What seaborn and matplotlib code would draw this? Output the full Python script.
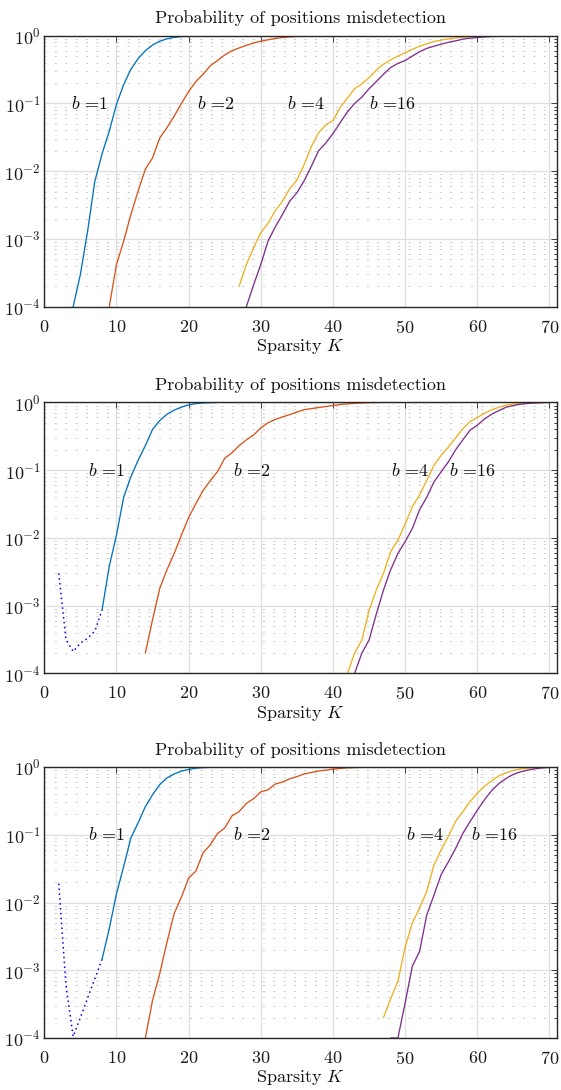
import numpy as np
import matplotlib
matplotlib.use('Agg')
import matplotlib.pyplot as plt
import seaborn as sns
from matplotlib.ticker import LogLocator, NullFormatter, NullLocator

# ---------------- data ----------------
title_text = "Probability of positions misdetection"
xlabel_text = r"Sparsity $K$"
labels_b = [r"$b$ =1", r"$b$ =2", r"$b$ =4", r"$b$ =16"]
x_ticks = [0, 10, 20, 30, 40, 50, 60, 70]

# Panel 1
p1_b1_K = list(range(4, 41))
p1_b1_P = [1.0e-4, 3.0e-4, 1.3e-3, 7.1e-3, 0.018, 0.039, 0.097, 0.19, 0.32, 0.46,
           0.60, 0.73, 0.83, 0.90, 0.945, 0.97, 0.985, 0.995, 1.0, 1.0,
           1.0, 1.0, 1.0, 1.0, 1.0, 1.0, 1.0, 1.0, 1.0, 1.0,
           1.0, 1.0, 1.0, 1.0, 1.0, 1.0, 1.0]
p1_b2_K = list(range(9, 50))
p1_b2_P = [1.0e-4, 4.2e-4, 9.3e-4, 2.3e-3, 5.1e-3, 0.0107, 0.0157, 0.031, 0.044, 0.065,
           0.10, 0.15, 0.21, 0.27, 0.36, 0.43, 0.52, 0.60, 0.66, 0.72,
           0.78, 0.83, 0.87, 0.91, 0.94, 0.96, 0.975, 0.985, 0.99, 0.995,
           1.0, 1.0, 1.0, 1.0, 1.0, 1.0, 1.0, 1.0, 1.0, 1.0, 1.0]
p1_b4_K = list(range(27, 71))
p1_b4_P = [2.0e-4, 4.2e-4, 7.4e-4, 1.24e-3, 1.7e-3, 2.6e-3, 3.6e-3, 5.5e-3, 7.4e-3, 0.0125,
           0.023, 0.037, 0.048, 0.056, 0.087, 0.12, 0.165, 0.195, 0.24, 0.31,
           0.38, 0.44, 0.50, 0.56, 0.63, 0.70, 0.76, 0.82, 0.86, 0.90,
           0.93, 0.95, 0.97, 0.98, 0.99, 0.995, 1.0, 1.0, 1.0, 1.0,
           1.0, 1.0, 1.0, 1.0]
p1_b16_K = list(range(28, 71))
p1_b16_P = [1.0e-4, 2.1e-4, 4.2e-4, 9.3e-4, 1.5e-3, 2.3e-3, 3.6e-3, 4.8e-3, 7.2e-3, 0.0118,
            0.020, 0.026, 0.036, 0.052, 0.075, 0.10, 0.124, 0.165, 0.21, 0.27,
            0.34, 0.39, 0.43, 0.50, 0.58, 0.65, 0.70, 0.75, 0.80, 0.84,
            0.89, 0.92, 0.94, 0.96, 0.97, 0.98, 0.99, 0.995, 1.0, 1.0,
            1.0, 1.0, 1.0]

# Panel 2
p2_b1dot_K = list(range(2, 9))
p2_b1dot_P = [3.0e-3, 3.2e-4, 2.1e-4, 2.8e-4, 3.3e-4, 4.2e-4, 8.6e-4]
p2_b1_K = list(range(8, 46))
p2_b1_P = [8.6e-4, 3.8e-3, 0.011, 0.040, 0.080, 0.14, 0.23, 0.40, 0.54, 0.67,
           0.77, 0.85, 0.92, 0.96, 0.98, 0.99, 1.0, 1.0, 1.0, 1.0,
           1.0, 1.0, 1.0, 1.0, 1.0, 1.0, 1.0, 1.0, 1.0, 1.0,
           1.0, 1.0, 1.0, 1.0, 1.0, 1.0, 1.0, 1.0]
p2_b2_K = list(range(14, 58))
p2_b2_P = [2.0e-4, 6.2e-4, 1.8e-3, 3.4e-3, 5.9e-3, 0.011, 0.020, 0.032, 0.050, 0.070,
           0.095, 0.15, 0.18, 0.23, 0.28, 0.33, 0.42, 0.50, 0.56, 0.61,
           0.66, 0.72, 0.78, 0.81, 0.84, 0.87, 0.90, 0.93, 0.95, 0.97,
           0.98, 0.99, 0.995, 1.0, 1.0, 1.0, 1.0, 1.0, 1.0, 1.0,
           1.0, 1.0, 1.0, 1.0]
p2_b4_K = list(range(42, 71))
p2_b4_P = [1.0e-4, 2.0e-4, 3.1e-4, 8.5e-4, 1.7e-3, 3.0e-3, 6.3e-3, 9.3e-3, 0.016, 0.029,
           0.043, 0.071, 0.118, 0.166, 0.22, 0.30, 0.41, 0.52, 0.60, 0.69,
           0.78, 0.85, 0.91, 0.95, 0.97, 0.985, 0.99, 0.995, 1.0]
p2_b16_K = list(range(43, 71))
p2_b16_P = [1.0e-4, 2.0e-4, 3.1e-4, 7.5e-4, 1.7e-3, 3.4e-3, 5.9e-3, 8.8e-3, 0.0138, 0.026,
            0.040, 0.067, 0.095, 0.133, 0.20, 0.28, 0.39, 0.46, 0.57, 0.67,
            0.76, 0.85, 0.90, 0.94, 0.965, 0.98, 0.99, 1.0]

# Panel 3
p3_b1dot_K = list(range(2, 9))
p3_b1dot_P = [0.019, 6.0e-4, 1.05e-4, 2.0e-4, 3.9e-4, 7.5e-4, 1.45e-3]
p3_b1_K = list(range(8, 46))
p3_b1_P = [1.45e-3, 4.1e-3, 0.0135, 0.034, 0.090, 0.15, 0.26, 0.39, 0.55, 0.69,
           0.79, 0.87, 0.92, 0.96, 0.98, 0.99, 1.0, 1.0, 1.0, 1.0,
           1.0, 1.0, 1.0, 1.0, 1.0, 1.0, 1.0, 1.0, 1.0, 1.0,
           1.0, 1.0, 1.0, 1.0, 1.0, 1.0, 1.0, 1.0]
p3_b2_K = list(range(14, 54))
p3_b2_P = [1.0e-4, 3.6e-4, 9.0e-4, 2.6e-3, 6.9e-3, 0.012, 0.023, 0.029, 0.054, 0.071,
           0.104, 0.126, 0.19, 0.22, 0.29, 0.34, 0.43, 0.46, 0.56, 0.60,
           0.67, 0.72, 0.79, 0.83, 0.87, 0.90, 0.93, 0.95, 0.97, 0.98,
           0.99, 1.0, 1.0, 1.0, 1.0, 1.0, 1.0, 1.0, 1.0, 1.0]
p3_b4_K = list(range(47, 71))
p3_b4_P = [2.0e-4, 3.8e-4, 6.9e-4, 2.2e-3, 5.0e-3, 8.3e-3, 0.0147, 0.036, 0.060, 0.095,
           0.158, 0.22, 0.31, 0.41, 0.52, 0.63, 0.74, 0.82, 0.89, 0.93,
           0.96, 0.98, 0.99, 0.995]
p3_b16_K = list(range(48, 71))
p3_b16_P = [1.0e-4, 1.0e-4, 3.3e-4, 1.15e-3, 1.9e-3, 6.6e-3, 0.0129, 0.026, 0.040, 0.063,
            0.105, 0.157, 0.23, 0.33, 0.45, 0.57, 0.68, 0.78, 0.85, 0.90,
            0.94, 0.97, 0.985]

label_x = [[3.65, 21.2, 33.6, 45.0],
           [6.0, 26.1, 48.1, 56.1],
           [6.05, 26.1, 50.1, 59.1]]
label_y = 0.1

# ---------------- style ----------------
sns.set_theme(style='white')
plt.rcParams['font.family'] = 'serif'
plt.rcParams['font.serif'] = ['cmr10', 'DejaVu Serif']
plt.rcParams['mathtext.fontset'] = 'cm'
plt.rcParams['axes.formatter.use_mathtext'] = True

C_B1 = '#0072BD'
C_B2 = '#D95319'
C_B4 = '#EDB120'
C_B16 = '#7E2F8E'
C_DOT = '#0000FF'

panels = [
    dict(dot=None, b1=(p1_b1_K, p1_b1_P), b2=(p1_b2_K, p1_b2_P), b4=(p1_b4_K, p1_b4_P), b16=(p1_b16_K, p1_b16_P)),
    dict(dot=(p2_b1dot_K, p2_b1dot_P), b1=(p2_b1_K, p2_b1_P), b2=(p2_b2_K, p2_b2_P), b4=(p2_b4_K, p2_b4_P), b16=(p2_b16_K, p2_b16_P)),
    dict(dot=(p3_b1dot_K, p3_b1dot_P), b1=(p3_b1_K, p3_b1_P), b2=(p3_b2_K, p3_b2_P), b4=(p3_b4_K, p3_b4_P), b16=(p3_b16_K, p3_b16_P)),
]

W, H = 561, 1090
fig = plt.figure(figsize=(W / 100, H / 100), dpi=100)
tops = [35.7, 402.4, 767.0]
ax_h = 271.0
left_px, width_px = 44.3, 512.4

FS = 13.0
LW = 0.95

for i, pan in enumerate(panels):
    ax = fig.add_axes([left_px / W, 1 - (tops[i] + ax_h) / H, width_px / W, ax_h / H])
    ax.set_axisbelow(True)
    if pan['dot'] is not None:
        sns.lineplot(x=pan['dot'][0], y=pan['dot'][1], ax=ax, color=C_DOT, linewidth=1.1,
                     linestyle=(0, (1.0, 2.2)))
    for key, col in (('b1', C_B1), ('b2', C_B2), ('b4', C_B4), ('b16', C_B16)):
        kk, pp = pan[key]
        assert len(kk) == len(pp), (i, key, len(kk), len(pp))
        sns.lineplot(x=kk, y=pp, ax=ax, color=col, linewidth=LW)
    ax.set_yscale('log')
    ax.set_ylim(1e-4, 1.0)
    ax.set_xlim(0, 71)
    ax.set_xticks(x_ticks)
    ax.xaxis.set_minor_locator(NullLocator())
    ax.yaxis.set_major_locator(LogLocator(base=10, numticks=10))
    ax.yaxis.set_minor_locator(LogLocator(base=10, subs=np.arange(2, 10), numticks=10))
    ax.yaxis.set_minor_formatter(NullFormatter())
    ax.grid(True, which='major', axis='both', color='#dedede', linewidth=0.9, linestyle='-')
    ax.grid(True, which='minor', axis='y', color='#c8c8c8', linewidth=0.7, linestyle=(0, (2.0, 8.7)))
    for s in ax.spines.values():
        s.set_color('#262626')
        s.set_linewidth(1.0)
    ax.tick_params(which='both', direction='in', top=True, right=True, color='#262626',
                   width=0.6, labelsize=FS, labelcolor='#1a1a1a')
    ax.tick_params(which='major', length=4)
    ax.tick_params(which='minor', length=2.5)
    ax.tick_params(axis='x', which='major', pad=8.5)
    ax.tick_params(axis='y', which='major', pad=2.5)
    ax.set_title(title_text, fontsize=FS, pad=9, color='#111111')
    ax.set_xlabel(xlabel_text, fontsize=FS, labelpad=1.0, color='#111111')
    ax.set_ylabel('')
    for j, lab in enumerate(labels_b):
        ax.text(label_x[i][j], label_y, lab, fontsize=FS, va='center', ha='left', color='#111111')

fig.savefig('out.png', dpi=100)
